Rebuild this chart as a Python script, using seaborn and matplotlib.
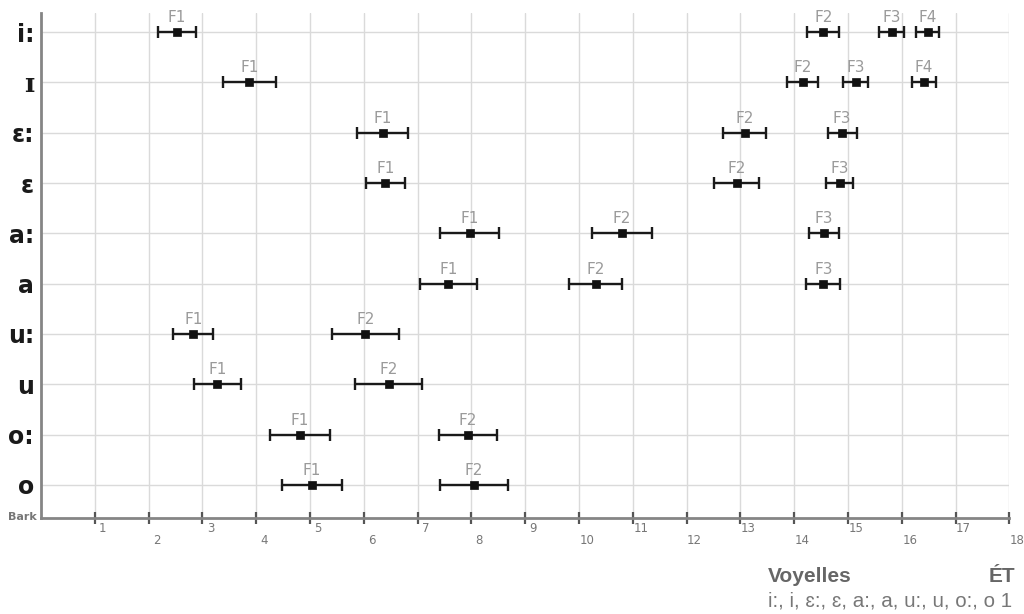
import numpy as np
import pandas as pd
import matplotlib
matplotlib.use("Agg")
import matplotlib.pyplot as plt
import seaborn as sns

# ---- data (Bark) ----
vowels = ["i:", "ɪ", "ɛ:", "ɛ", "a:", "a", "u:", "u", "o:", "o"]
F1 = [2.53, 3.87, 6.35, 6.40, 7.97, 7.57, 2.83, 3.28, 4.81, 5.04]
F1_sd = [0.36, 0.49, 0.47, 0.36, 0.55, 0.53, 0.37, 0.43, 0.56, 0.56]
F2 = [14.54, 14.16, 13.08, 12.93, 10.80, 10.31, 6.03, 6.46, 7.94, 8.05]
F2_sd = [0.30, 0.29, 0.40, 0.42, 0.55, 0.49, 0.62, 0.62, 0.54, 0.63]
F3 = [15.81, 15.14, 14.89, 14.85, 14.55, 14.54, None, None, None, None]
F3_sd = [0.23, 0.24, 0.27, 0.25, 0.28, 0.32, None, None, None, None]
F4 = [16.48, 16.41, None, None, None, None, None, None, None, None]
F4_sd = [0.22, 0.22, None, None, None, None, None, None, None, None]
x_ticks = list(range(1, 19))
axis_label = "Bark"
legend_title = "Voyelles"
legend_col = "ÉT"
legend_text = "i:, i, ɛ:, ɛ, a:, a, u:, u, o:, o 1"

rows = []
for name, vals, sds in [("F1", F1, F1_sd), ("F2", F2, F2_sd), ("F3", F3, F3_sd), ("F4", F4, F4_sd)]:
    for i, (v, s) in enumerate(zip(vals, sds)):
        if v is not None:
            rows.append({"vowel": vowels[i], "pos": i, "formant": name, "bark": v, "sd": s})
df = pd.DataFrame(rows)

sns.set_theme(style="white")
plt.rcParams["font.family"] = ["DejaVu Sans"]

W, H = 1024, 614
fig = plt.figure(figsize=(W / 100, H / 100), dpi=100)
left, right, bottom, top = 41, 1009.4, 518, 13
ax = fig.add_axes([left / W, 1 - bottom / H, (right - left) / W, (bottom - top) / H])

# grid
ax.set_axisbelow(True)
ax.set_xticks(x_ticks)
ax.set_yticks(range(len(vowels)))
ax.grid(True, color="#dadada", lw=1.0)

# error bars
ax.errorbar(df["bark"], df["pos"], xerr=df["sd"], fmt="none", ecolor="#1a1a1a",
            elinewidth=1.7, capsize=4.0, capthick=1.7, zorder=3)
sns.scatterplot(data=df, x="bark", y="pos", marker="s", color="#111111", s=34,
                edgecolor="#111111", linewidth=0.5, ax=ax, zorder=4, legend=False)

for _, r in df.iterrows():
    ax.annotate(r["formant"], xy=(r["bark"], r["pos"]), xytext=(0, 14.5), textcoords="offset pixels",
                ha="center", va="center", color="#9a9a9a", fontsize=11)

ax.set_xlim(0, 18)
ax.set_ylim(9.66, -0.38)
ax.set_xlabel("")
ax.set_ylabel("")

# spines
for s in ["top", "right"]:
    ax.spines[s].set_visible(False)
for s in ["left", "bottom"]:
    ax.spines[s].set_color("#858585")
    ax.spines[s].set_linewidth(2.0)

# y tick labels
ax.set_yticklabels(vowels, fontsize=17, fontweight="bold", color="#1a1a1a")
ax.tick_params(axis="y", left=False, length=0, pad=5)
for lab in ax.get_yticklabels():
    if lab.get_text() == "ɪ":
        lab.set_fontfamily("DejaVu Serif")
        lab.set_fontsize(19)

# x ticks: marks only, staggered labels
ax.tick_params(axis="x", bottom=True, direction="inout", length=8, width=1.6,
               color="#555555", labelbottom=False)
for v in x_ticks:
    dy = -10 if v % 2 == 1 else -23
    ax.annotate(str(v), xy=(v, 0), xycoords=("data", "axes fraction"), xytext=(8, dy),
                textcoords="offset pixels", ha="center", va="center", color="#777777", fontsize=8.5)

ax.annotate(axis_label, xy=(0, 0), xycoords="axes fraction", xytext=(-4, 1), textcoords="offset pixels",
            ha="right", va="center", color="#777777", fontsize=8, fontweight="bold")

# legend block
fam = ["Liberation Sans", "DejaVu Sans"]
fig.text(768 / W, 1 - 577 / H, legend_title, ha="left", va="center", fontsize=15,
         fontweight="bold", color="#666666", family=fam)
fig.text(1015 / W, 1 - 577 / H, legend_col, ha="right", va="center", fontsize=15,
         fontweight="bold", color="#666666", family=fam)
fig.text(768 / W, 1 - 601 / H, legend_text, ha="left", va="center", fontsize=14.8,
         color="#777777", family=fam)

fig.savefig("out.png", dpi=100)
